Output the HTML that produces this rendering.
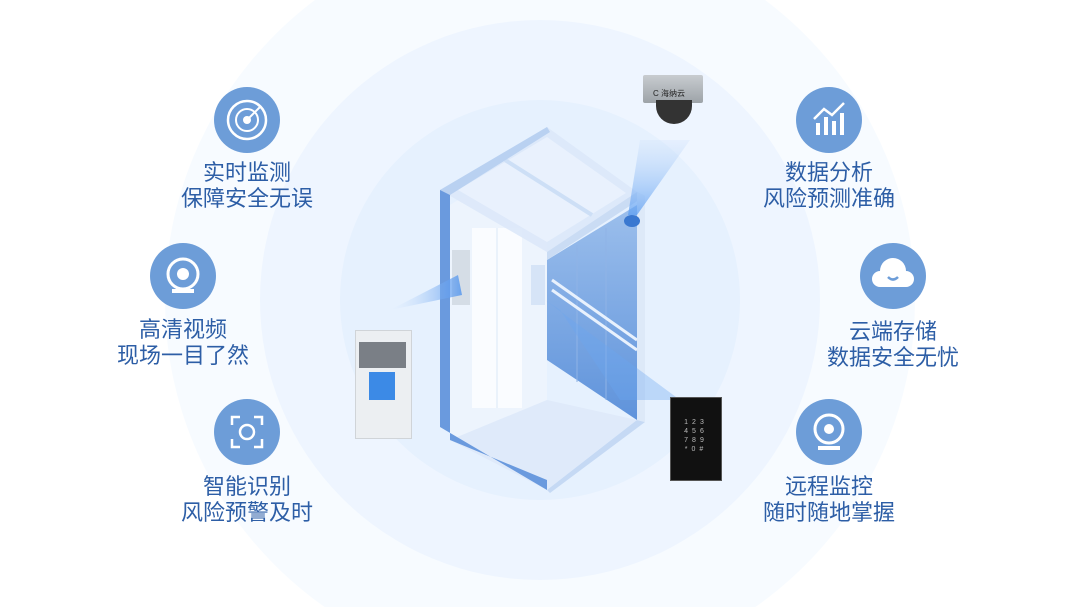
<!DOCTYPE html>
<html><head><meta charset="utf-8"><style>
html,body{margin:0;width:1080px;height:607px;overflow:hidden}
body{background:#fff;position:relative;font-family:"Liberation Sans","Noto Sans CJK SC",sans-serif}
.ic{position:absolute;width:66px;height:66px;border-radius:50%;background:#6d9dd8}
.t{position:absolute;width:200px;text-align:center;color:#2d5ea6;font-size:22px;line-height:26px}
svg{position:absolute;left:0;top:0}
</style></head><body>

<svg width="1080" height="607" viewBox="0 0 1080 607">
<defs>
<linearGradient id="rw" x1="0" y1="0" x2="0" y2="1"><stop offset="0" stop-color="#9cbfec"/><stop offset="1" stop-color="#5f93db"/></linearGradient>
<linearGradient id="beam" x1="0" y1="0" x2="0" y2="1"><stop offset="0" stop-color="#c9defa" stop-opacity=".3"/><stop offset="1" stop-color="#5a9df2" stop-opacity=".9"/></linearGradient>
<linearGradient id="beam2" x1="1" y1="0" x2="0" y2="0"><stop offset="0" stop-color="#4f93ee" stop-opacity=".8"/><stop offset="1" stop-color="#cfe2fa" stop-opacity="0"/></linearGradient>
</defs>
<rect width="1080" height="607" fill="#fff"/>
<circle cx="540" cy="300" r="375" fill="#f7fbff"/>
<circle cx="540" cy="300" r="280" fill="#eef5ff"/>
<circle cx="540" cy="300" r="200" fill="#e6f1fe"/>
<polygon points="450,205 547,145 547,400 450,440" fill="#edf4fd"/>
<polygon points="472,228 522,228 522,408 472,408" fill="#fafcff"/>
<line x1="497" y1="228" x2="497" y2="408" stroke="#dbe7f7"/>
<polygon points="450,440 547,400 637,420 547,490" fill="#dfeafa"/>
<polygon points="547,260 637,205 637,420 547,360" fill="url(#rw)"/>
<line x1="577" y1="245" x2="577" y2="382" stroke="#8fb3e6"/>
<line x1="606" y1="228" x2="606" y2="400" stroke="#8fb3e6"/>
<line x1="552" y1="280" x2="637" y2="340" stroke="#e8f1fd" stroke-width="3"/>
<line x1="552" y1="290" x2="637" y2="350" stroke="#e8f1fd" stroke-width="3"/>
<rect x="531" y="265" width="14" height="40" fill="#d6e4f7"/>
<polygon points="547,127 440,190 547,252 637,192" fill="#dbe8fa" opacity=".9"/>
<polygon points="547,137 458,190 547,242 626,193" fill="#e9f1fd"/>
<line x1="505" y1="160" x2="592" y2="215" stroke="#cddff6" stroke-width="4"/>
<polygon points="440,190 450,190 450,440 547,480 547,490 440,427" fill="#6a9ade"/>
<polygon points="440,190 547,127 550,132 450,195" fill="#b9d1f1"/>
<polygon points="547,252 637,192 645,196 547,260" fill="#cadcf4"/>
<polygon points="547,490 637,420 645,422 550,493" fill="#c5d9f4"/>
<polygon points="637,192 645,196 645,422 637,420" fill="#dde9f8"/>
<rect x="452" y="250" width="18" height="55" fill="#d5dde6"/>
<polygon points="640,140 690,140 637,215 628,215" fill="url(#beam)" opacity=".8"/>
<polygon points="390,310 458,275 462,295" fill="url(#beam2)"/>
<polygon points="545,300 560,310 620,400 680,400" fill="#6aa6f0" opacity=".35"/>
<ellipse cx="632" cy="221" rx="8" ry="6" fill="#3a78d0"/>
</svg>

<div style="position:absolute;left:643px;top:75px;width:60px;height:28px;background:linear-gradient(#c8ccd0,#9da3a8);border-radius:2px"></div>
<div style="position:absolute;left:653px;top:88px;font-size:8px;color:#222">C 海纳云</div>
<div style="position:absolute;left:656px;top:100px;width:36px;height:24px;background:#333;border-radius:0 0 20px 20px"></div>
<div style="position:absolute;left:355px;top:330px;width:55px;height:107px;background:#eceff2;border:1px solid #d0d4d8"></div>
<div style="position:absolute;left:359px;top:342px;width:47px;height:26px;background:#7a7f86"></div>
<div style="position:absolute;left:369px;top:372px;width:26px;height:28px;background:#3c8ae6"></div>
<div style="position:absolute;left:670px;top:397px;width:52px;height:84px;background:#111;border:1px solid #555;color:#bbb;font-size:7px;line-height:9px;text-align:center;box-sizing:border-box;padding-top:20px;letter-spacing:4px">123<br>456<br>789<br>*0#</div>

<div class="ic" style="left:214px;top:87px"><svg width="66" height="66"><circle cx="33" cy="33" r="19" fill="none" stroke="#fff" stroke-width="2.5"/><circle cx="33" cy="33" r="11" fill="none" stroke="#fff" stroke-width="2"/><circle cx="33" cy="33" r="4" fill="#fff"/><line x1="33" y1="33" x2="46" y2="20" stroke="#fff" stroke-width="2"/></svg></div>
<div class="ic" style="left:150px;top:243px"><svg width="66" height="66"><circle cx="33" cy="31" r="15" fill="none" stroke="#fff" stroke-width="3"/><circle cx="33" cy="31" r="6" fill="#fff"/><rect x="22" y="46" width="22" height="4" fill="#fff"/></svg></div>
<div class="ic" style="left:214px;top:399px"><svg width="66" height="66"><path d="M18 26v-8h8M40 18h8v8M48 40v8h-8M26 48h-8v-8" fill="none" stroke="#fff" stroke-width="2.5"/><circle cx="33" cy="33" r="7" fill="none" stroke="#fff" stroke-width="2.5"/></svg></div>
<div class="ic" style="left:796px;top:87px"><svg width="66" height="66"><rect x="20" y="36" width="4" height="12" fill="#fff"/><rect x="28" y="30" width="4" height="18" fill="#fff"/><rect x="36" y="34" width="4" height="14" fill="#fff"/><rect x="44" y="26" width="4" height="22" fill="#fff"/><path d="M18 32l10-10 8 6 12-12" fill="none" stroke="#fff" stroke-width="2.5"/></svg></div>
<div class="ic" style="left:860px;top:243px"><svg width="66" height="66"><path d="M20 44a8 8 0 0 1 0-16a13 13 0 0 1 26 0a8 8 0 0 1 0 16z" fill="#fff"/><path d="M28 34q5 5 10 0" fill="none" stroke="#6d9dd8" stroke-width="2.5"/></svg></div>
<div class="ic" style="left:796px;top:399px"><svg width="66" height="66"><circle cx="33" cy="30" r="14" fill="none" stroke="#fff" stroke-width="3"/><circle cx="33" cy="30" r="5" fill="#fff"/><rect x="22" y="47" width="22" height="4" fill="#fff"/></svg></div>

<div class="t" style="left:147px;top:160px">实时监测<br>保障安全无误</div>
<div class="t" style="left:83px;top:317px">高清视频<br>现场一目了然</div>
<div class="t" style="left:147px;top:474px">智能识别<br>风险预警及时</div>
<div class="t" style="left:729px;top:160px">数据分析<br>风险预测准确</div>
<div class="t" style="left:793px;top:319px">云端存储<br>数据安全无忧</div>
<div class="t" style="left:729px;top:474px">远程监控<br>随时随地掌握</div>
</body></html>
